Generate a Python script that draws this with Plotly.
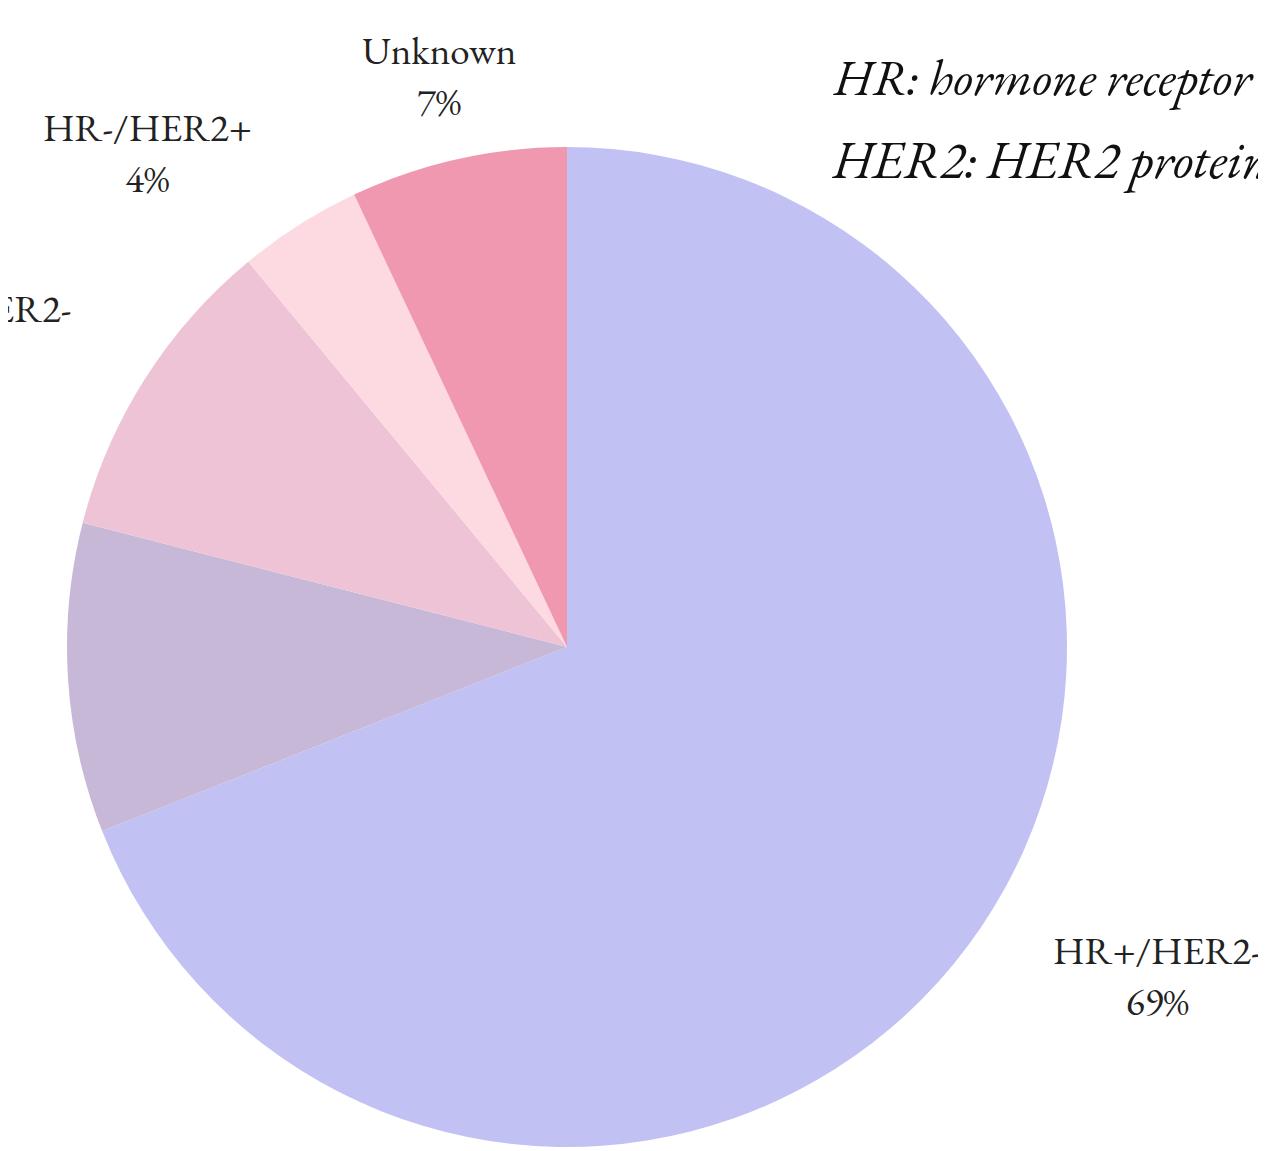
import math
import plotly.graph_objects as go

labels = ["HR+/HER2-", "HR+/HER2+", "HR-/HER2-", "HR-/HER2+", "Unknown"]
values = [69, 10, 10, 4, 7]
colors = ["#c1c2f3", "#c8b8d8", "#edc3d5", "#fddae2", "#f098af"]
notes = ["HR: hormone receptor", "HER2: HER2 protein"]

W, H = 1266, 1151
OFF = 8  # default body margin of the page
cx, cy, R = 567 - OFF, 647 - OFF, 500  # pie centre / radius in figure pixels
LABEL_DIST = 1.17

FONT = "EB Garamond, Garamond, Liberation Serif, serif"

fig = go.Figure(go.Pie(
    labels=labels,
    values=values,
    sort=False,
    direction="clockwise",
    rotation=0,
    automargin=False,
    marker=dict(colors=colors, line=dict(width=0)),
    textinfo="none",
    hoverinfo="label+percent",
    showlegend=False,
    domain=dict(x=[(cx - R) / W, (cx + R) / W], y=[(H - cy - R) / H, (H - cy + R) / H]),
))

# outside labels placed at the mid-angle of each slice
total = sum(values)
start = 0.0
for lab, v in zip(labels, values):
    frac = v / total
    mid = (start + frac / 2) * 2 * math.pi  # clockwise from 12 o'clock
    start += frac
    px = cx + LABEL_DIST * R * math.sin(mid)
    py = cy - LABEL_DIST * R * math.cos(mid)
    s = math.sin(mid)
    if abs(s) < 0.3:
        xa = "center"
    elif s > 0:
        xa = "left"
    else:
        xa = "right"
    fig.add_annotation(
        text=f"{lab}<br>{round(frac * 100)}%",
        x=px / W, y=1 - py / H, xref="paper", yref="paper",
        xanchor=xa, yanchor="middle", align="center", showarrow=False,
        font=dict(family=FONT, size=39, color="#222222"),
    )

fig.add_annotation(text=f"<i>{notes[0]}</i>", x=(1043 - OFF) / W, y=1 - (77 - OFF) / H,
                   xref="paper", yref="paper", xanchor="center", yanchor="middle",
                   showarrow=False,
                   font=dict(family=FONT, size=51, color="#111111"))
fig.add_annotation(text=f"<i>{notes[1]}</i>", x=(1050 - OFF) / W, y=1 - (159 - OFF) / H,
                   xref="paper", yref="paper", xanchor="center", yanchor="middle",
                   showarrow=False,
                   font=dict(family=FONT, size=53, color="#111111"))

fig.update_layout(
    width=W, height=H,
    margin=dict(l=0, r=0, t=0, b=0, autoexpand=False),
    paper_bgcolor="white", plot_bgcolor="white",
)

fig.write_html("out.html")
